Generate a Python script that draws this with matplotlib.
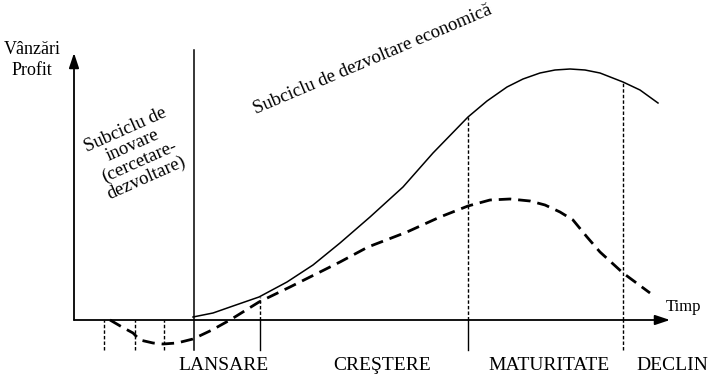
#!/usr/bin/env python3
"""Ciclul de viata al produsului: vanzari / profit in timp."""
import matplotlib
import matplotlib.pyplot as plt

matplotlib.use("Agg")
plt.rcParams["font.family"] = ["Liberation Serif", "DejaVu Serif"]

# curba vanzarilor (linie continua), incepe la lansare
sales_t = [119, 139, 159, 185, 213, 239, 266, 296, 329, 359, 394, 413, 433, 449,
           466, 481, 496, 511, 526, 549, 566, 584]
sales_v = [3, 7, 14, 23, 38, 55, 77, 103, 133, 167, 203, 219, 233, 241,
           247, 250, 251, 250, 247, 238, 230, 217]

# curba profitului (linie intrerupta), negativa in faza de inovare
profit_t = [36, 48, 59, 66, 79, 89, 103, 119, 138, 156, 185, 216, 266, 294, 333,
            366, 394, 416, 436, 456, 471, 486, 499, 513, 526, 549, 576]
profit_v = [0, -7, -13, -20, -23, -24, -23, -19, -10, 0, 18, 33, 58, 73, 88,
            103, 114, 120, 121, 119, 115, 108, 100, 83, 68, 47, 27]

# limite de faza
innov_marks = [30, 61, 90]
launch_t = 120
phase_t = [186, 394, 549]
phase_top = [23, 203, 238]
phase_labels = ["LANSARE", "CREŞTERE", "MATURITATE", "DECLIN"]
label_t = [150, 308, 475, 598]

fig = plt.figure(figsize=(7.28, 3.85), dpi=100)
ax = fig.add_axes([0, 0, 1, 1])
ax.set_xlim(-74, 654)
ax.set_ylim(-65, 320)
ax.axis("off")

# axe cu sageti
arrow = dict(arrowstyle="-|>,head_length=0.9,head_width=0.3", color="black", lw=1.3,
             shrinkA=0, shrinkB=0)
ax.annotate("", xy=(0, 267), xytext=(0, 0), arrowprops=arrow)
ax.annotate("", xy=(596, 0), xytext=(0, 0), arrowprops=arrow)

ax.plot(sales_t, sales_v, color="black", lw=1.1, solid_joinstyle="round")
ax.plot(profit_t, profit_v, color="black", lw=2.0, dashes=(4.5, 2.5))

# linii verticale
ax.plot([launch_t, launch_t], [-30, 270], color="black", lw=1.1)
for t in innov_marks:
    ax.plot([t, t], [-30, 0], color="black", lw=1.0, dashes=(2.5, 1.5))
for i, (t, top) in enumerate(zip(phase_t, phase_top)):
    ax.plot([t, t], [0, top], color="black", lw=1.0, dashes=(2.5, 1.5))
    if i < 2:
        ax.plot([t, t], [-30, 0], color="black", lw=1.0)
    else:
        ax.plot([t, t], [-30, 0], color="black", lw=1.0, dashes=(2.5, 1.5))

for lab, t in zip(phase_labels, label_t):
    ax.text(t, -45, lab, ha="center", va="center", fontsize=14)

ax.text(-42, 260, "Vânzări\nProfit", ha="center", va="center", fontsize=13,
        linespacing=1.25)
ax.text(610, 13, "Timp", ha="center", va="center", fontsize=12)
ax.text(62, 166, "Subciclu de\ninovare\n(cercetare-\ndezvoltare)", ha="center",
        va="center", fontsize=13.5, rotation=24, rotation_mode="anchor",
        multialignment="center", linespacing=1.05)
ax.text(299, 260, "Subciclu de dezvoltare economică", ha="center", va="center",
        fontsize=13.5, rotation=23, rotation_mode="anchor")

fig.savefig("out.png", dpi=100)
plt.close(fig)
